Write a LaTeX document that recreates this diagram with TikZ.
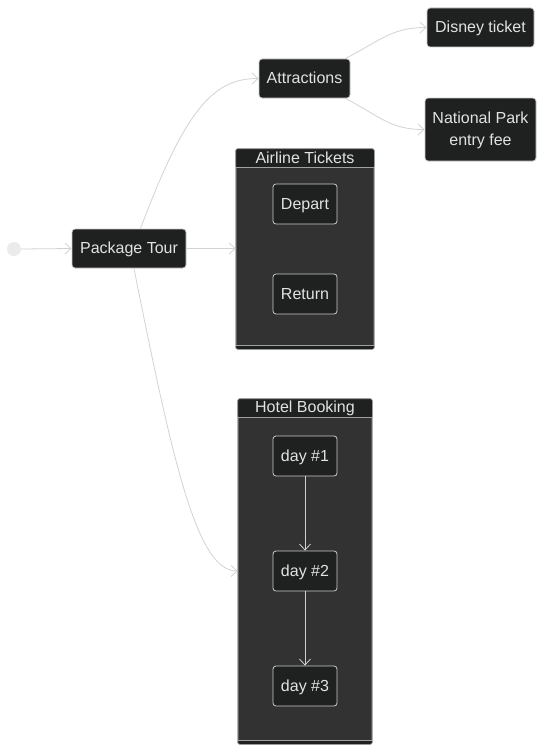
\documentclass[tikz,border=0pt]{standalone}
\usepackage{fontspec}
\setmainfont{Liberation Sans}
\usepackage{tikz}
\usetikzlibrary{arrows.meta}

\definecolor{nodefill}{HTML}{1F2020}
\definecolor{nodeline}{HTML}{CCCCCC}
\definecolor{boxfill}{HTML}{323232}
\definecolor{boxline}{HTML}{A0A0A0}
\definecolor{edgeline}{HTML}{D3D3D3}
\definecolor{labeltext}{HTML}{E2E2E2}

\tikzset{
  state/.style={draw=nodeline, fill=nodefill, rounded corners=3pt, text=labeltext,
    line width=0.8pt, minimum height=39pt, inner sep=0pt, align=center,
    text depth=1pt},
  cluster/.style={draw=boxline, fill=boxfill, rounded corners=2pt, line width=0.6pt, inner sep=0pt},
  title/.style={text=labeltext, inner sep=0pt},
  edge/.style={draw=edgeline, line width=0.8pt, -{Straight Barb[length=6pt,width=11pt]}},
  inner/.style={draw=nodeline!90, line width=0.8pt, -{Straight Barb[length=6pt,width=11pt]}}
}

\begin{document}
\begin{tikzpicture}[x=1pt, y=-1pt, font=\fontsize{16}{22}\selectfont]
  \useasboundingbox[fill=white] (0,0) rectangle (545,752);

  % start point and top level states
  \node[circle, fill=black!8, minimum size=14pt, inner sep=0pt] (start) at (14,249) {};
  \node[state, minimum width=114pt] (pt) at (129,248.5) {Package Tour};
  \node[state, minimum width=91pt] (att) at (304.5,78.5) {Attractions};
  \node[state, minimum width=107pt] (disney) at (480.5,27.5) {Disney ticket};
  \node[state, minimum width=111pt, minimum height=63pt] (np) at (480.5,129.5) {National Park\\entry fee};

  % composite states
  \node[cluster, minimum width=138pt, minimum height=200pt] (air) at (305,249) {};
  \fill[nodefill, rounded corners=2pt] (air.north west) rectangle ([yshift=-19pt]air.north east);
  \fill[nodefill, rounded corners=2pt] ([yshift=4pt]air.south west) rectangle (air.south east);
  \draw[boxline, line width=1.4pt] ([yshift=-19pt]air.north west) -- ([yshift=-19pt]air.north east);
  \draw[boxline, line width=1.6pt] ([yshift=4pt]air.south west) -- ([yshift=4pt]air.south east);
  \draw[boxline, line width=0.6pt, rounded corners=2pt] (air.north west) rectangle (air.south east);
  \node[title] (airtitle) at ([yshift=-9.5pt]air.north) {Airline Tickets};
  \node[state, minimum width=64pt, minimum height=40pt] (depart) at (305,204) {Depart};
  \node[state, minimum width=64pt, minimum height=40pt] (return) at (305,294) {Return};

  \node[cluster, minimum width=134pt, minimum height=345pt] (hotel) at (305,571.5) {};
  \fill[nodefill, rounded corners=2pt] (hotel.north west) rectangle ([yshift=-19pt]hotel.north east);
  \fill[nodefill, rounded corners=2pt] ([yshift=4pt]hotel.south west) rectangle (hotel.south east);
  \draw[boxline, line width=1.4pt] ([yshift=-19pt]hotel.north west) -- ([yshift=-19pt]hotel.north east);
  \draw[boxline, line width=1.6pt] ([yshift=4pt]hotel.south west) -- ([yshift=4pt]hotel.south east);
  \draw[boxline, line width=0.6pt, rounded corners=2pt] (hotel.north west) rectangle (hotel.south east);
  \node[title] (hoteltitle) at ([yshift=-9.5pt]hotel.north) {Hotel Booking};
  \node[state, minimum width=64pt, minimum height=40pt] (d1) at (305,456) {day \#1};
  \node[state, minimum width=64pt, minimum height=40pt] (d2) at (305,571) {day \#2};
  \node[state, minimum width=64pt, minimum height=40pt] (d3) at (305,686) {day \#3};

  % transitions
  \draw[edge] (start.east) -- (pt.west);
  \draw[edge] (pt.east) -- (air.west |- pt.east);
  \draw[edge] (pt.60) .. controls +(45,-120) and +(-45,0) .. (att.west);
  \draw[edge] (pt.-76) .. controls +(40,200) and +(-40,0) .. (hotel.west |- d2);
  \draw[edge] (att.26) .. controls +(35,-18) and +(-35,0) .. (disney.west);
  \draw[edge] (att.-26) .. controls +(35,18) and +(-35,0) .. (np.west);
  \draw[inner] (d1) -- (d2);
  \draw[inner] (d2) -- (d3);
\end{tikzpicture}
\end{document}
